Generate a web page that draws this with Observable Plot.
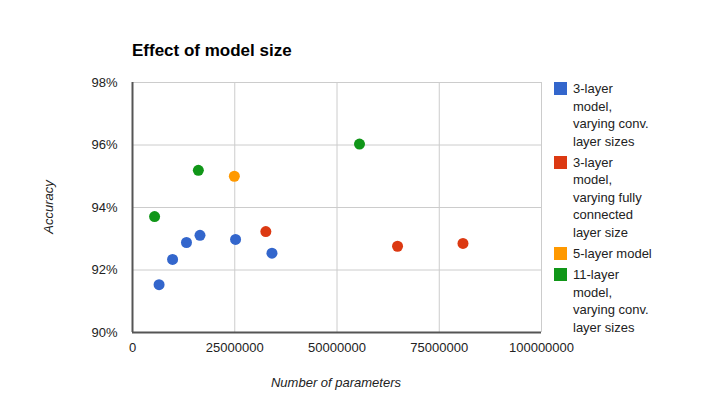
<!DOCTYPE html>
<html>
<head>
<meta charset="utf-8">
<script src="https://cdn.jsdelivr.net/npm/d3@7"></script>
<script src="https://cdn.jsdelivr.net/npm/@observablehq/plot@0.6"></script>
<style>
  html, body { margin: 0; padding: 0; background: #fff; }
  #wrap { position: relative; width: 726px; height: 399px; overflow: hidden; font-family: "Liberation Sans", Arial, sans-serif; color: #222; }
  #chart { position: absolute; left: 0; top: 0; }
  .abs { position: absolute; white-space: nowrap; }
  #title { left: 132px; top: 41px; font-size: 17px; font-weight: bold; color: #000; }
  #ytitle { left: 48px; top: 207px; font-size: 13px; font-style: italic; transform: translate(-50%, -50%) rotate(-90deg); }
  #xtitle { left: 336px; top: 382px; font-size: 13px; font-style: italic; transform: translate(-50%, -50%); }
  .leg { position: absolute; left: 554px; font-size: 13px; line-height: 17.6px; }
  .sw { position: absolute; left: 0; top: 2px; width: 13px; height: 13px; }
  .lt { position: absolute; left: 19px; top: 0; white-space: nowrap; }
</style>
</head>
<body>
<div id="wrap">
  <div id="chart"></div>
  <div id="title" class="abs">Effect of model size</div>
  <div id="ytitle" class="abs">Accuracy</div>
  <div id="xtitle" class="abs">Number of parameters</div>
  <div id="legend"></div>
</div>
<script>
const seriesNames = [
  "3-layer model, varying conv. layer sizes",
  "3-layer model, varying fully connected layer size",
  "5-layer model",
  "11-layer model, varying conv. layer sizes"
];
const legendLines = [
  ["3-layer", "model,", "varying conv.", "layer sizes"],
  ["3-layer", "model,", "varying fully", "connected", "layer size"],
  ["5-layer model"],
  ["11-layer", "model,", "varying conv.", "layer sizes"]
];
const seriesColors = ["#3366cc", "#dc3912", "#ff9900", "#109618"];

const blueParams = [6.5e6, 9.8e6, 13.2e6, 16.5e6, 25.2e6, 34.1e6];
const blueAcc    = [91.53, 92.34, 92.88, 93.11, 92.98, 92.54];
const redParams  = [32.6e6, 64.8e6, 80.8e6];
const redAcc     = [93.23, 92.76, 92.85];
const orangeParams = [24.9e6];
const orangeAcc    = [95.0];
const greenParams = [5.4e6, 16.1e6, 55.5e6];
const greenAcc    = [93.71, 95.19, 96.03];

const xTicks = [0, 25000000, 50000000, 75000000, 100000000];
const yTicks = [90, 92, 94, 96, 98];

const groups = [
  [blueParams, blueAcc],
  [redParams, redAcc],
  [orangeParams, orangeAcc],
  [greenParams, greenAcc]
];
const data = [];
groups.forEach(([xs, ys], i) => xs.forEach((x, j) => data.push({series: seriesNames[i], params: x, acc: ys[j]})));

const chart = Plot.plot({
  width: 726,
  height: 399,
  marginLeft: 132,
  marginRight: 185,
  marginTop: 82,
  marginBottom: 67,
  style: {fontFamily: '"Liberation Sans", Arial, sans-serif', fontSize: "13px", color: "#222", background: "transparent"},
  x: {domain: [0, 100000000]},
  y: {domain: [90, 98]},
  color: {domain: seriesNames, range: seriesColors},
  marks: [
    Plot.gridX(xTicks, {stroke: "#cccccc", strokeOpacity: 1, strokeWidth: 1}),
    Plot.gridY(yTicks, {stroke: "#cccccc", strokeOpacity: 1, strokeWidth: 1}),
    Plot.axisX(xTicks, {tickSize: 0, tickPadding: 10, label: null, tickFormat: d => String(d), fontSize: 13}),
    Plot.axisY(yTicks, {tickSize: 0, tickPadding: 15, label: null, tickFormat: d => d + "%", fontSize: 13}),
    Plot.ruleX([0], {stroke: "#555", strokeWidth: 2}),
    Plot.ruleY([90], {stroke: "#555", strokeWidth: 2}),
    Plot.dot(data, {x: "params", y: "acc", fill: "series", r: 5.5})
  ]
});
document.getElementById("chart").appendChild(chart);

const legendTops = [80, 153.5, 244.5, 266];
const legend = document.getElementById("legend");
seriesNames.forEach((name, i) => {
  const item = document.createElement("div");
  item.className = "leg";
  item.style.top = legendTops[i] + "px";
  const sw = document.createElement("div");
  sw.className = "sw";
  sw.style.background = seriesColors[i];
  const lt = document.createElement("div");
  lt.className = "lt";
  lt.innerHTML = legendLines[i].join("<br>");
  item.appendChild(sw);
  item.appendChild(lt);
  legend.appendChild(item);
});
</script>
</body>
</html>
